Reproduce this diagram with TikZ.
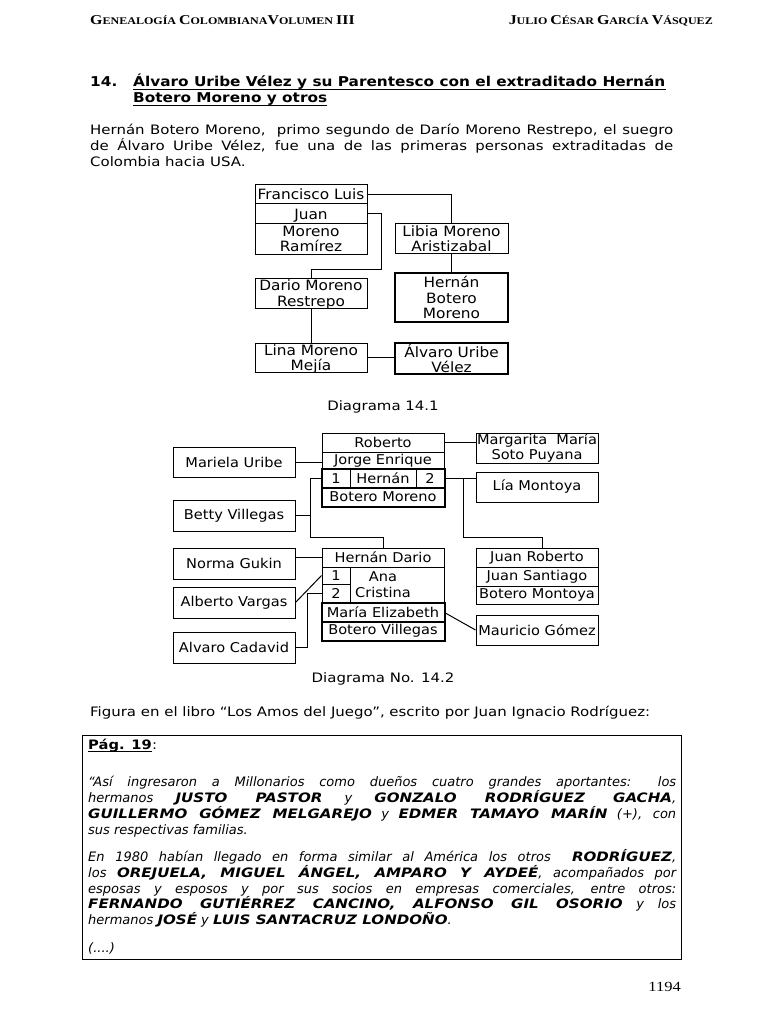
\documentclass[tikz,border=0pt]{standalone}
\usepackage{fontspec}
\setmainfont{DejaVu Sans}[UprightFeatures={FakeStretch=1.15},BoldFeatures={FakeStretch=1.13},ItalicFeatures={FakeStretch=1.0},BoldItalicFeatures={FakeStretch=1.16}]
\newfontfamily\tnr{Liberation Serif}[FakeStretch=1.18]
\newfontfamily\dia[FakeStretch=1.08]{DejaVu Sans}
\newcommand\myscap[2]{{\fontsize{13.5}{14}\selectfont #1}{\fontsize{10.2}{10.5}\selectfont #2}}
\newcommand\bnm[1]{\textbf{#1}}
\begin{document}
\begin{tikzpicture}[x=1pt,y=-1pt,
  hdr/.style={anchor=base west, inner sep=0, font=\tnr\bfseries},
  body/.style={anchor=base west, inner sep=0, font=\fontsize{13}{16}\selectfont},
  ttl/.style={anchor=base west, inner sep=0, font=\fontsize{13.55}{16}\selectfont\bfseries},
  qline/.style={anchor=base west, inner sep=0, font=\fontsize{13}{16}\selectfont\itshape},
  diacap/.style={anchor=base, inner sep=0, font=\fontsize{13}{16}\selectfont},
  dboxa/.style={draw, line width=1pt, inner sep=0, align=center, text depth=0pt,
     font=\dia\fontsize{14.2}{15.5}\selectfont},
  thickboxa/.style={dboxa, line width=2pt},
  dbox/.style={draw, line width=1pt, inner sep=0, align=center,
     font=\dia\fontsize{13.5}{15}\selectfont},
  thk/.style={line width=2pt},
  link/.style={line width=1pt}]
\fill[white] (0,0) rectangle (768,1024);
\useasboundingbox (0,0) rectangle (768,1024);

% header
\node[hdr] (hl) at (90,25) {\myscap{G}{ENEALOGÍA} \myscap{C}{OLOMBIANA}\myscap{V}{OLUMEN}\ {\fontsize{13.5}{14}\selectfont III}};
\node[hdr,anchor=base east] (hr) at (713,25) {\myscap{J}{ULIO} \myscap{C}{ÉSAR} \myscap{G}{ARCÍA} \myscap{V}{ÁSQUEZ}};

% title
\node[ttl] (tn) at (90,87) {14.};
\node[ttl] (t1) at (133,87) {Álvaro Uribe Vélez y su Parentesco con el extraditado Hernán};
\node[ttl] (t2) at (133,103) {Botero Moreno y otros};
\draw[line width=1.2pt] ([yshift=-2.5pt]t1.base west) -- ([yshift=-2.5pt]t1.base east);
\draw[line width=1.2pt] ([yshift=-2.5pt]t2.base west) -- ([yshift=-2.5pt]t2.base east);

% paragraph
\node[body] (p1) at (90,135) {\makebox[583pt][s]{Hernán Botero Moreno,\ \ primo segundo de Darío Moreno Restrepo, el suegro}};
\node[body] (p2) at (90,151) {\makebox[583pt][s]{de Álvaro Uribe Vélez, fue una de las primeras personas extraditadas de}};
\node[body] (p3) at (90,167) {Colombia hacia USA.};

% Diagram 14.1
\node[dboxa, minimum width=112, minimum height=19] (fl) at (311,194.5) {Francisco Luis};
\node[dboxa, minimum width=112, minimum height=20] (juan) at (311,214) {Juan};
\node[dboxa, minimum width=112, minimum height=30] (mr) at (311,239) {Moreno\\Ramírez};
\node[dboxa, minimum width=113, minimum height=29] (libia) at (451.5,238.5) {Libia Moreno\\Aristizabal};
\node[thickboxa, minimum width=113, minimum height=49] (hbm) at (451.5,297.5) {Hernán\\Botero\\Moreno};
\node[dboxa, minimum width=112, minimum height=30] (dmr) at (311,293) {Dario Moreno\\Restrepo};
\node[dboxa, minimum width=112, minimum height=29] (lina) at (311,357.5) {Lina Moreno\\Mejía};
\node[thickboxa, minimum width=113, minimum height=31] (auv) at (451.5,358.5) {Álvaro Uribe\\Vélez};
\coordinate (j1) at (381,269);
\draw[link] (fl.east) -| (libia.north);
\draw[link] (juan.east) -| (j1) -| (dmr.north);
\draw[link] (libia.south) -- (hbm.north);
\draw[link] (dmr.south) -- (lina.north);
\draw[link] (lina.east) -- (lina.east -| auv.west);
\node[diacap] (c141) at (383,410) {Diagrama 14.1};

% Diagram 14.2
\node[dbox, minimum width=122, minimum height=19] (rob) at (383,442.5) {Roberto};
\node[dbox, minimum width=122, minimum height=17] (jorge) at (383,460.5) {Jorge Enrique};
\node[dbox, minimum width=28, minimum height=19] (c1) at (336,478.5) {\raisebox{-3pt}{1}};
\node[dbox, minimum width=66, minimum height=19] (hern) at (383,478.5) {Hernán};
\node[dbox, minimum width=28, minimum height=19] (c2) at (430,478.5) {\raisebox{-3pt}{2}};
\node[dbox, minimum width=122, minimum height=18] (bm) at (383,497) {Botero Moreno};
\draw[thk] (c1.north west) rectangle (bm.south east);
\draw[thk] (bm.north west) -- (bm.north east);
\node[dbox, minimum width=122, minimum height=30] (marg) at (537,448) {Margarita\ \ María\\Soto Puyana};
\node[dbox, minimum width=122, minimum height=30] (lia) at (537,487) {Lía Montoya};
\node[dbox, minimum width=122, minimum height=30] (mariela) at (234,462) {Mariela Uribe};
\node[dbox, minimum width=122, minimum height=31] (betty) at (234,515.5) {Betty Villegas};
\node[dbox, minimum width=122, minimum height=31] (norma) at (234,563.5) {Norma Gukin};
\node[dbox, minimum width=122, minimum height=31] (av) at (234,602.5) {Alberto Vargas};
\node[dbox, minimum width=122, minimum height=31] (ac) at (234,647.5) {Alvaro Cadavid};
\node[dbox, minimum width=122, minimum height=19] (hd) at (383,557.5) {Hernán Dario};
\node[dbox, minimum width=28, minimum height=17] (a1) at (336,575.5) {\raisebox{-2pt}{1}};
\node[dbox, minimum width=28, minimum height=19] (a2) at (336,593.5) {2};
\node[dbox, minimum width=94, minimum height=36] (acbox) at (397,585) {};
\node[inner sep=0, align=center, font=\dia\fontsize{13.5}{16}\selectfont] (acn) at (383,585) {Ana\\Cristina};
\node[dbox, minimum width=122, minimum height=19] (me) at (383,612.5) {María Elizabeth};
\node[dbox, minimum width=122, minimum height=18] (bv) at (383,631) {Botero Villegas};
\draw[thk] (me.north west) rectangle (bv.south east);
\draw[thk] (bv.north west) -- (bv.north east);
\node[dbox, minimum width=122, minimum height=19] (jr) at (537,557.5) {Juan Roberto};
\node[dbox, minimum width=122, minimum height=19] (js) at (537,576.5) {Juan Santiago};
\node[dbox, minimum width=122, minimum height=18] (bmo) at (537,595) {Botero Montoya};
\node[dbox, minimum width=122, minimum height=30] (mg) at (537,630) {Mauricio Gómez};

\coordinate (r1) at (463,478.5);
\coordinate (r2) at (463,537);
\coordinate (r3) at (542,537);
\coordinate (l1) at (310,478.5);
\coordinate (l2) at (310,537);
\coordinate (k1) at (307,647.5);
\draw[link] (rob.east) -- (rob.east -| marg.west);
\draw[link] (mariela.east) -- (mariela.east -| jorge.west);
\draw[link] (c2.east) -- (c2.east -| lia.west);
\draw[link] (r1) -- (r2) -- (r3) -- (r3 |- jr.north);
\draw[link] (c1.west) -- (l1) -- (l2) -| (hd.north);
\draw[link] (betty.east) -- (betty.east -| l1);
\draw[link] (hd.west -| norma.east) -- (hd.west);
\draw[link] (av.east) -- (a1.west);
\draw[link] (ac.east) -- (k1) |- (a2.west);
\draw[link] (me.east) -- (mg.west);
\node[diacap] (c142) at (383,682) {Diagrama No. 14.2};

% figure caption
\node[body] (fig) at (90,716) {Figura en el libro “Los Amos del Juego”, escrito por Juan Ignacio Rodríguez:};

% quote box
\node[draw, line width=1pt, minimum width=599, minimum height=224, anchor=north west, inner sep=0] (qbox) at (82,735) {};
\node[body] (pag) at (88,749) {\textbf{Pág. 19}};
\node[body, anchor=base west] (pagc) at (pag.base east) {:};
\draw[line width=1.2pt] ([yshift=-2.5pt]pag.base west) -- ([yshift=-2.5pt]pag.base east);
\node[qline] (q1) at (88,786) {\makebox[588pt][s]{“Así ingresaron a Millonarios como dueños cuatro grandes aportantes: los}};
\node[qline] (q2) at (88,802) {\makebox[588pt][s]{hermanos \bnm{JUSTO PASTOR} y \bnm{GONZALO RODRÍGUEZ GACHA},}};
\node[qline] (q3) at (88,818) {\makebox[588pt][s]{\bnm{GUILLERMO GÓMEZ MELGAREJO} y \bnm{EDMER TAMAYO MARÍN} (+), con}};
\node[qline] (q4) at (88,834.5) {sus respectivas familias.};
\node[qline] (q5) at (88,861) {\makebox[588pt][s]{En 1980 habían llegado en forma similar al América los otros\ \ \bnm{RODRÍGUEZ},}};
\node[qline] (q6) at (88,877) {\makebox[588pt][s]{los \bnm{OREJUELA, MIGUEL ÁNGEL, AMPARO Y AYDEÉ}, acompañados por}};
\node[qline] (q7) at (88,893) {\makebox[588pt][s]{esposas y esposos y por sus socios en empresas comerciales, entre otros:}};
\node[qline] (q8) at (88,908.5) {\makebox[588pt][s]{\bnm{FERNANDO GUTIÉRREZ CANCINO, ALFONSO GIL OSORIO} y los}};
\node[qline] (q9) at (88,924.5) {hermanos \bnm{JOSÉ} y \bnm{LUIS SANTACRUZ LONDOÑO}.};
\node[qline] (q10) at (88,952) {(....)};

% page number
\node[anchor=base east, inner sep=0, font=\tnr\fontsize{14}{14}\selectfont] (pn) at (681,991) {1194};
\end{tikzpicture}
\end{document}
